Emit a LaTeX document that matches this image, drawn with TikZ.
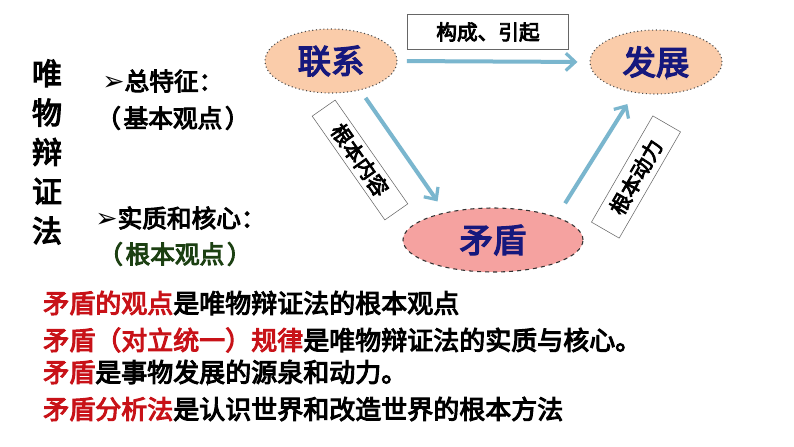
\documentclass[tikz,border=0pt]{standalone}
\usepackage{fontspec}
\usetikzlibrary{shapes.geometric,arrows.meta}
\newfontfamily\cjk{Noto Sans CJK SC}[FakeBold=4]
\newfontfamily\symfont{DejaVu Sans}
\definecolor{peach}{RGB}{250,204,170}
\definecolor{rose}{RGB}{245,162,160}
\definecolor{flowblue}{RGB}{122,182,206}
\definecolor{navy}{RGB}{22,24,125}
\definecolor{keyred}{RGB}{200,18,24}
\definecolor{darkgreen}{RGB}{28,64,18}
\tikzset{
	idea/.style={ellipse, draw=black!70, minimum width=99pt, minimum height=48pt, font=\cjk\fontsize{25}{26}\selectfont, text=navy},
	flow/.style={draw=flowblue, line width=3pt, -{Straight Barb[length=7pt, width=13pt, line width=2.4pt]}},
	tag/.style={draw=black!60, fill=white, inner sep=0pt, font=\cjk\fontsize{15.5}{16}\selectfont},
	point/.style={anchor=west, inner sep=0pt, font=\cjk\fontsize{18.5}{20}\selectfont},
	rule/.style={anchor=west, inner sep=0pt, font=\cjk\fontsize{19.5}{21}\selectfont}
}
\newcommand\pointer{{\symfont\bfseries\fontsize{20}{20}\selectfont ➢}}
\begin{document}
\begin{tikzpicture}[x=0.75pt, y=-0.75pt]
			%%%%% START %%%%%
			\useasboundingbox[fill=white] (0, 0) rectangle (794, 447);
			
			\node[font=\cjk\fontsize{22.5}{29.5}\selectfont, align=center] (title) at (47, 152) {唯\\物\\辩\\证\\法};
			
			\node[point] (total) at (102, 81) {\pointer 总特征：};
			\node[point] (basic) at (96, 118) {（\hspace{2pt}基本观点\hspace{2pt}）};
			\node[point] (core) at (95, 218) {\pointer 实质和核心：};
			\node[point, text=darkgreen] (root) at (98, 254) {（\hspace{2pt}根本观点\hspace{2pt}）};
			
			\node[idea, fill=peach, dotted, thick] (lianxi) at (331, 61) {联系};
			\node[idea, fill=peach, dotted, thick] (fazhan) at (656, 62) {发展};
			\node[idea, fill=rose, dashed, thick, draw=black!80, minimum width=135pt] (maodun) at (493, 240) {矛盾};
			
			\draw[flow, shorten <=7pt, shorten >=9pt] (lianxi.east) -- (fazhan.west);
			\draw[flow, shorten <=7pt, shorten >=10pt] (lianxi.-45) -- (maodun.150);
			\draw[flow, shorten <=12pt, shorten >=10pt] (maodun.20) -- (fazhan.-125);
			
			\node[tag, minimum width=121pt, minimum height=26pt] (cause) at (488, 32) {构成、引起};
			\node[tag, rotate=-55, minimum width=95pt, minimum height=21pt] (content) at (360, 160) {根本内容};
			\node[tag, rotate=60, minimum width=92pt, minimum height=24pt] (power) at (636, 177) {根本动力};
			
			\node[rule] (line1) at (43, 303) {\textcolor{keyred}{矛盾的观点}是唯物辩证法的根本观点};
			\node[rule] (line2) at (43, 340) {\textcolor{keyred}{矛盾（对立统一）规律}是唯物辩证法的实质与核心。};
			\node[rule] (line3) at (43, 372) {\textcolor{keyred}{矛盾}是事物发展的源泉和动力。};
			\node[rule] (line4) at (43, 409) {\textcolor{keyred}{矛盾分析法}是认识世界和改造世界的根本方法};
			
			%%%%% END %%%%%
		\end{tikzpicture}
\end{document}
